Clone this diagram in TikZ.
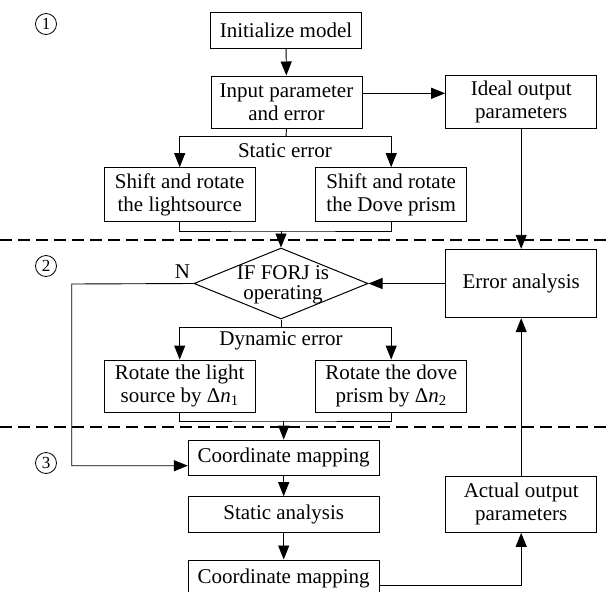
\documentclass[tikz,border=0pt]{standalone}
\usepackage{fontspec}
\setmainfont{Liberation Serif}
\usetikzlibrary{arrows.meta,shapes.geometric}
\begin{document}
\begin{tikzpicture}[x=1pt,y=-1pt,
  every node/.style={font=\fontsize{21}{23}\selectfont},
  box/.style={draw, line width=1pt, inner sep=0pt, align=center},
  dia/.style={draw, diamond, line width=1pt, inner sep=0pt, minimum width=174pt, minimum height=71pt},
  arr/.style={line width=0.9pt, -{Triangle[length=14pt,width=11pt]}},
  con/.style={line width=0.9pt},
  sepline/.style={line width=1.8pt, dash pattern=on 12pt off 6pt},
  num/.style={draw, circle, line width=0.8pt, minimum size=21pt, inner sep=0pt, font=\fontsize{17}{17}\selectfont},
  lbl/.style={inner sep=0pt}
]
\useasboundingbox (0,0) rectangle (611,592);
\clip (0,0) rectangle (611,592);
\fill[white] (0,0) rectangle (611,592);

% section numbers
\node[num] (n1) at (46,24) {1};
\node[num] (n2) at (46,266) {2};
\node[num] (n3) at (46,463) {3};

% boxes
\node[box, minimum width=151pt, minimum height=35.6pt] (init) at (286,30.5) {Initialize model};
\node[box, minimum width=151pt, minimum height=52pt] (inp) at (286.5,102) {Input parameter\\and error};
\node[box, minimum width=151pt, minimum height=53pt] (ideal) at (521.2,101.7) {Ideal output\\parameters};
\node[box, minimum width=150.7pt, minimum height=54pt] (shL) at (179.7,194.7) {Shift and rotate\\the lightsource};
\node[box, minimum width=151pt, minimum height=54pt] (shR) at (391.2,194.7) {Shift and rotate\\the Dove prism};
\node[dia] (dec) at (281,283.5) {};
\node[align=center, font=\fontsize{21}{20}\selectfont] (dectext) at (283,284.5) {IF FORJ is\\operating};
\node[box, minimum width=151pt, minimum height=68.4pt] (err) at (521.2,283.5) {Error analysis};
\node[box, minimum width=150.7pt, minimum height=52.3pt] (rotL) at (179.7,386.2) {Rotate the light\\source by Δ\textit{n}\textsubscript{1}};
\node[box, minimum width=151pt, minimum height=52.3pt] (rotR) at (391.2,386.2) {Rotate the dove\\prism by Δ\textit{n}\textsubscript{2}};
\node[box, minimum width=190.7pt, minimum height=35.7pt] (cm1) at (283.7,457.9) {Coordinate mapping};
\node[box, minimum width=190.7pt, minimum height=35.6pt] (sa) at (283.7,514.5) {Static analysis};
\node[box, minimum width=190.7pt, minimum height=36pt] (cm2) at (283.7,578) {Coordinate mapping};
\node[box, minimum width=151pt, minimum height=56.3pt] (act) at (521.2,504.2) {Actual output\\parameters};

% labels
\node[lbl] (lstat) at (285,150.5) {Static error};
\node[lbl] (ldyn) at (281,341) {Dynamic error};
\node[lbl] (lN) at (182.5,272) {N};

% separators
\coordinate (d1a) at (0,240);
\coordinate (d1b) at (611,240);
\coordinate (d2a) at (0,426.7);
\coordinate (d2b) at (611,426.7);
\draw[sepline] (d1a) -- (d1b);
\draw[sepline] (d2a) -- (d2b);

% connectors
\draw[arr] (init) -- (inp);
\draw[arr] ([yshift=8.7pt]inp.east) -- ([yshift=8.7pt]inp.east -| ideal.west);
\coordinate (s1) at (286,136.7);
\draw[con] (inp.south) -- (s1);
\draw[arr] (s1) -| (shL.north);
\draw[arr] (s1) -| (shR.north);
\coordinate (j1) at (281,231);
\draw[con] (shL.south) |- (j1) -| (shR.south);
\draw[arr] (j1) -- (dec.north);
\draw[arr] (ideal.south) -- (err.north);
\draw[arr] (err.west) -- (dec.east);
\coordinate (s2) at (281,327.7);
\draw[con] (dec.south) -- (s2);
\draw[arr] (s2) -| (rotL.north);
\draw[arr] (s2) -| (rotR.north);
\coordinate (j2) at (283.7,421);
\draw[con] (rotL.south) |- (j2) -| (rotR.south);
\draw[arr] (j2) -- (cm1.north);
\coordinate (nl) at (71.7,284);
\draw[arr] (dec.west) -- (nl) |- ([yshift=-7.8pt]cm1.west);
\draw[arr] (cm1) -- (sa);
\draw[arr] (sa) -- (cm2);
\draw[arr] ([yshift=-7pt]cm2.east) -| (act.south);
\draw[arr] (act.north) -- (err.south);
\end{tikzpicture}
\end{document}
